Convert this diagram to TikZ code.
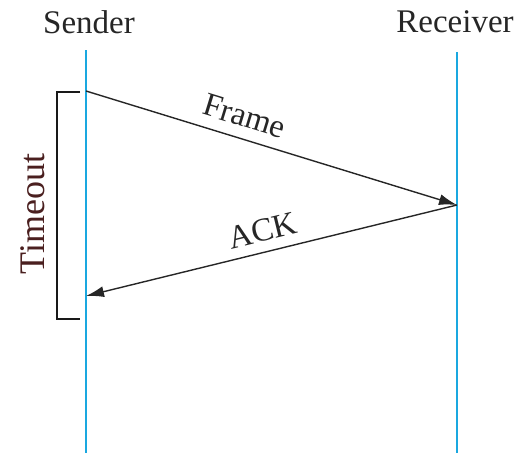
\documentclass[tikz,border=0pt]{standalone}
\usepackage{fontspec}
\setmainfont{Liberation Serif}
\usetikzlibrary{arrows.meta}
\definecolor{lifeline}{HTML}{1AA8E0}
\definecolor{timeoutred}{HTML}{4A1F1F}
\begin{document}
\begin{tikzpicture}[x=1pt,y=-1pt,
  lbl/.style={font=\fontsize{33}{35}\selectfont, text=black!85, inner sep=0pt},
  life/.style={draw=lifeline, line width=2pt},
  msg/.style={draw=black!85, line width=1.4pt, -{Latex[length=18pt,width=11pt]}},
  brk/.style={draw=black!90, line width=2pt}]
\useasboundingbox (0,0) rectangle (517,453);
\node[lbl] (snd) at (89,22) {Sender};
\node[lbl] (rcv) at (455,22) {Receiver};
\coordinate (stop) at (86,50);
\coordinate (sbot) at (86,453);
\coordinate (rtop) at (457,52);
\coordinate (rbot) at (457,453);
\draw[life] (stop) -- (sbot);
\draw[life] (rtop) -- (rbot);
\coordinate (f0) at (86,91);
\coordinate (f1) at (457,205);
\coordinate (a1) at (86,296);
\draw[msg] (f0) -- node[lbl, pos=0.41, above=11pt, sloped] (fl) {Frame} (f1);
\draw[msg] (f1) -- node[lbl, pos=0.51, above=10pt, sloped] (al) {ACK} (a1);
\coordinate (b0) at (80,92);
\coordinate (b1) at (57,92);
\coordinate (b2) at (57,319);
\coordinate (b3) at (80,319);
\draw[brk] (b0) -- (b1) -- (b2) -- (b3);
\node[lbl, text=timeoutred, rotate=90, font=\fontsize{36}{38}\selectfont] (to) at (33,214) {Timeout};
\end{tikzpicture}
\end{document}
